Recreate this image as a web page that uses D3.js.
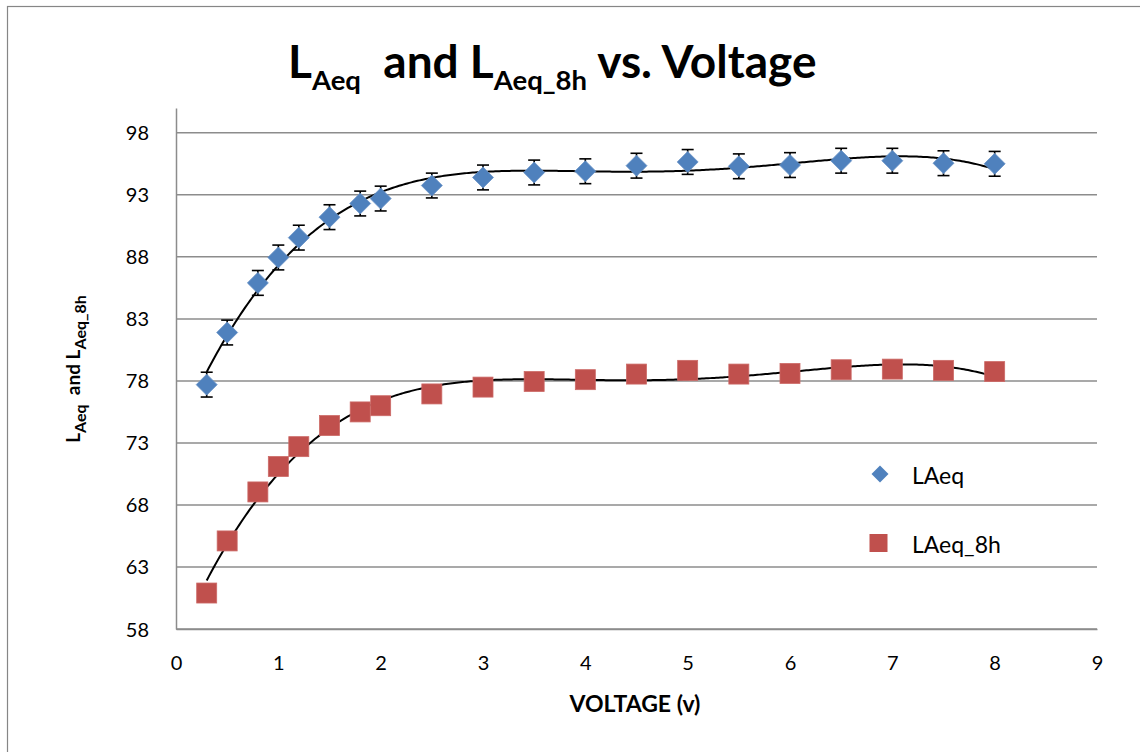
<!DOCTYPE html>
<html>
<head>
<meta charset="utf-8">
<script src="https://cdn.jsdelivr.net/npm/d3@7"></script>
<style>
  html, body { margin: 0; padding: 0; background: #fff; }
  svg { display: block; }
  text { font-family: Lato, "Open Sans", "Liberation Sans", sans-serif; fill: #000; }
</style>
</head>
<body>
<svg id="chart" width="1140" height="752"></svg>
<script>
// Measured sound levels against supply voltage
const voltage = [0.3, 0.5, 0.8, 1.0, 1.2, 1.5, 1.8, 2.0, 2.5, 3, 3.5, 4, 4.5, 5, 5.5, 6, 6.5, 7, 7.5, 8];
const laeq    = [77.7, 81.9, 85.9, 87.95, 89.55, 91.2, 92.3, 92.7, 93.75, 94.4, 94.8, 94.9, 95.35, 95.65, 95.3, 95.4, 95.75, 95.75, 95.55, 95.5];
const laeq8h  = [60.9, 65.1, 69.05, 71.1, 72.7, 74.4, 75.5, 76.0, 76.95, 77.5, 77.95, 78.1, 78.55, 78.85, 78.55, 78.6, 78.9, 78.95, 78.85, 78.75];
const laeqErr = [1, 1, 1, 1, 1, 1, 1, 1, 1, 1, 1, 1, 1, 1, 1, 1, 1, 1, 1, 1];

const xTicks = [0, 1, 2, 3, 4, 5, 6, 7, 8, 9];
const yTicks = [58, 63, 68, 73, 78, 83, 88, 93, 98];
const seriesNames = ["LAeq", "LAeq_8h"];
const trendOrder = 4;

const svg = d3.select("#chart");
const margin = { left: 176, right: 1097, top: 108, bottom: 629 };

const x = d3.scaleLinear().domain([0, 9]).range([margin.left, margin.right]);
const y = d3.scaleLinear().domain([58, 100]).range([margin.bottom, margin.top]);

// Chart frame
svg.append("rect")
  .attr("x", 7.5).attr("y", 6.5)
  .attr("width", 1150).attr("height", 760)
  .attr("fill", "#fff").attr("stroke", "#868686").attr("stroke-width", 1.2);

// Horizontal gridlines
svg.append("g").selectAll("line").data(yTicks).join("line")
  .attr("x1", margin.left).attr("x2", margin.right)
  .attr("y1", d => y(d)).attr("y2", d => y(d))
  .attr("stroke", "#8c8c8c").attr("stroke-width", 1.5);

// Axes
const yAxis = d3.axisLeft(y).tickValues(yTicks).tickSize(0).tickPadding(0);
const gy = svg.append("g").attr("transform", `translate(${margin.left},0)`).call(yAxis);
gy.select(".domain").attr("stroke", "#8c8c8c").attr("stroke-width", 1.5);
gy.selectAll("text").attr("x", -27).attr("dy", "0.35em")
  .style("font-size", "20px").style("font-family", "Lato, sans-serif").attr("fill", "#000");

const xAxis = d3.axisBottom(x).tickValues(xTicks).tickSize(0).tickPadding(0);
const gx = svg.append("g").attr("transform", `translate(0,${margin.bottom})`).call(xAxis);
gx.select(".domain").attr("stroke", "#8c8c8c").attr("stroke-width", 1.5);
gx.selectAll("text").attr("y", 34).attr("dy", "0.35em")
  .style("font-size", "20px").style("font-family", "Lato, sans-serif").attr("fill", "#000");

// Least-squares polynomial trendline, fitted on x scaled to [0,1]
function polyFit(xs, ys, order) {
  const s = 8;
  const n = order + 1;
  const A = Array.from({ length: n }, () => new Array(n + 1).fill(0));
  xs.forEach((xv, k) => {
    const t = xv / s;
    const pw = [];
    for (let i = 0; i < 2 * n; i++) pw.push(Math.pow(t, i));
    for (let i = 0; i < n; i++) {
      for (let j = 0; j < n; j++) A[i][j] += pw[i + j];
      A[i][n] += pw[i] * ys[k];
    }
  });
  for (let c = 0; c < n; c++) {
    let p = c;
    for (let r = c + 1; r < n; r++) if (Math.abs(A[r][c]) > Math.abs(A[p][c])) p = r;
    [A[c], A[p]] = [A[p], A[c]];
    for (let r = 0; r < n; r++) {
      if (r === c) continue;
      const f = A[r][c] / A[c][c];
      for (let k = c; k <= n; k++) A[r][k] -= f * A[c][k];
    }
  }
  const coef = A.map((row, i) => row[n] / row[i]);
  return xv => coef.reduce((acc, cf, i) => acc + cf * Math.pow(xv / s, i), 0);
}

const line = d3.line().x(d => x(d[0])).y(d => y(d[1])).curve(d3.curveLinear);
const xs = d3.range(voltage[0], voltage[voltage.length - 1] + 1e-9, 0.02);
[laeq, laeq8h].forEach(vals => {
  const f = polyFit(voltage, vals, trendOrder);
  svg.append("path")
    .attr("d", line(xs.map(v => [v, f(v)])))
    .attr("fill", "none").attr("stroke", "#000").attr("stroke-width", 2);
});

// Error bars on LAeq
const eb = svg.append("g").attr("stroke", "#000").attr("stroke-width", 1.6);
voltage.forEach((v, i) => {
  const cx = x(v), hi = y(laeq[i] + laeqErr[i]), lo = y(laeq[i] - laeqErr[i]);
  eb.append("line").attr("x1", cx).attr("x2", cx).attr("y1", hi).attr("y2", lo);
  eb.append("line").attr("x1", cx - 6).attr("x2", cx + 6).attr("y1", hi).attr("y2", hi);
  eb.append("line").attr("x1", cx - 6).attr("x2", cx + 6).attr("y1", lo).attr("y2", lo);
});

// LAeq_8h squares
svg.append("g").selectAll("rect").data(voltage).join("rect")
  .attr("x", d => x(d) - 10).attr("y", (d, i) => y(laeq8h[i]) - 10)
  .attr("width", 20).attr("height", 20)
  .attr("fill", "#c0504d").attr("stroke", "#cc6a67").attr("stroke-width", 0.8);

// LAeq diamonds
const diamond = r => `M0,${-r}L${r},0L0,${r}L${-r},0Z`;
svg.append("g").selectAll("path").data(voltage).join("path")
  .attr("transform", (d, i) => `translate(${x(d)},${y(laeq[i])})`)
  .attr("d", diamond(10.5))
  .attr("fill", "#4f81bd").attr("stroke", "#6a93c6").attr("stroke-width", 0.8);

// Legend
const lg = svg.append("g");
lg.append("path").attr("transform", "translate(880,474)").attr("d", diamond(8.5)).attr("fill", "#4f81bd");
lg.append("rect").attr("x", 869.5).attr("y", 534).attr("width", 18).attr("height", 18).attr("fill", "#c0504d");
lg.append("text").attr("x", 912).attr("y", 476).attr("dy", "0.35em").style("font-size", "23px").text(seriesNames[0]);
lg.append("text").attr("x", 912).attr("y", 545).attr("dy", "0.35em").style("font-size", "23px").text(seriesNames[1]);

// Title with subscripts
const title = svg.append("text").attr("x", 288).attr("y", 78)
  .style("font-size", "46px").style("font-weight", "bold");
title.append("tspan").text("L");
title.append("tspan").attr("dy", 12).style("font-size", "27.5px").text("Aeq");
title.append("tspan").attr("dy", -12).text("\u00a0 and L");
title.append("tspan").attr("dy", 12).style("font-size", "27.5px").text("Aeq_8h");
title.append("tspan").attr("dy", -12).text(" vs. Voltage");

// Y axis title
const yt = svg.append("text")
  .attr("transform", "translate(80,369) rotate(-90)")
  .attr("text-anchor", "middle")
  .style("font-size", "19px").style("font-weight", "bold");
yt.append("tspan").text("L");
yt.append("tspan").attr("dy", 6).style("font-size", "16px").text("Aeq");
yt.append("tspan").attr("dy", -6).text("\u00a0 and L");
yt.append("tspan").attr("dy", 6).style("font-size", "16px").text("Aeq_8h");

// X axis title
svg.append("text").attr("x", 635).attr("y", 712)
  .attr("text-anchor", "middle")
  .style("font-size", "23px").style("font-weight", "bold")
  .text("VOLTAGE (v)");
</script>
</body>
</html>
